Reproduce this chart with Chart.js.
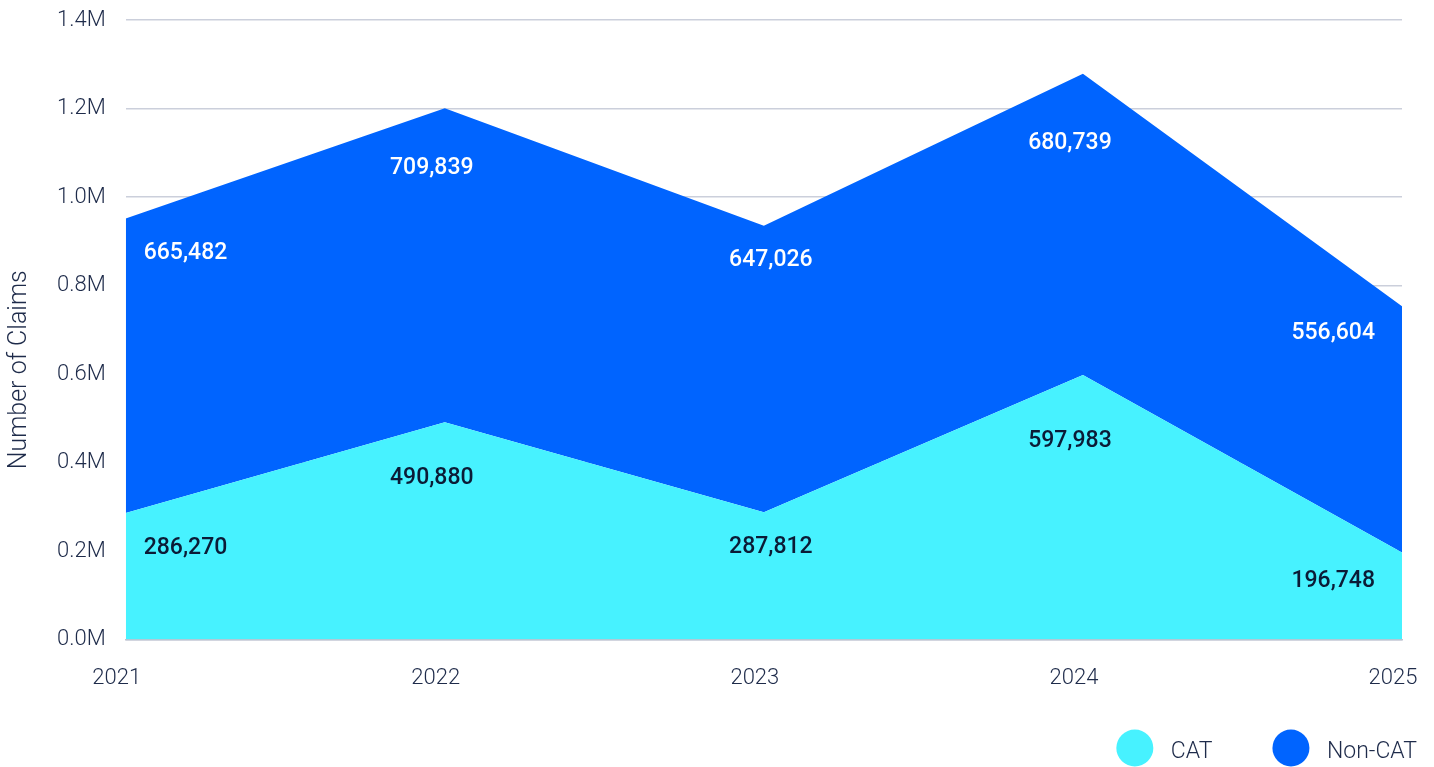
<!DOCTYPE html>
<html>
<head>
<meta charset="utf-8">
<title>Number of Claims</title>
<script src="https://cdn.jsdelivr.net/npm/chart.js@4.4.1/dist/chart.umd.min.js"></script>
<style>
  html, body { margin: 0; padding: 0; background: #ffffff; overflow: hidden; }
  #wrap { position: relative; width: 1434px; height: 775px; }
</style>
</head>
<body>
<div id="wrap"><canvas id="chart"></canvas></div>
<script>
// Claim counts per year, split by catastrophe (CAT) and non-catastrophe claims
const years = ['2021', '2022', '2023', '2024', '2025'];
const catClaims = [286270, 490880, 287812, 597983, 196748];
const nonCatClaims = [665482, 709839, 647026, 680739, 556604];
const yTicks = [0, 200000, 400000, 600000, 800000, 1000000, 1200000, 1400000];
const yTitle = 'Number of Claims';

const CAT_COLOR = '#47F2FF';
const NONCAT_COLOR = '#0064FF';
const TEXT_COLOR = '#1E2B4A';
const FONT = 'Roboto, "Noto Sans", sans-serif';

// Value labels inside each band, kept clear of the band's upper edge
const bandLabels = {
  id: 'bandLabels',
  afterDatasetsDraw(chart) {
    const ctx = chart.ctx;
    const area = chart.chartArea;
    ctx.save();
    ctx.font = '500 23px ' + FONT;
    ctx.textAlign = 'center';
    ctx.textBaseline = 'middle';
    chart.data.datasets.forEach((ds, di) => {
      const pts = chart.getDatasetMeta(di).data;
      const edgeY = (x) => {
        x = Math.min(Math.max(x, pts[0].x), pts[pts.length - 1].x);
        for (let i = 0; i < pts.length - 1; i++) {
          const a = pts[i], b = pts[i + 1];
          if (x >= a.x && x <= b.x) {
            return a.y + (b.y - a.y) * (x - a.x) / (b.x - a.x);
          }
        }
        return pts[pts.length - 1].y;
      };
      pts.forEach((p, i) => {
        const text = ds.data[i].toLocaleString('en-US');
        const half = ctx.measureText(text).width / 2;
        let cx = p.x;
        if (i > 0 && i < pts.length - 1) {
          const peak = p.y < pts[i - 1].y && p.y < pts[i + 1].y;
          const valley = p.y > pts[i - 1].y && p.y > pts[i + 1].y;
          if (peak) cx -= 13;
          if (valley) cx += 7;
        }
        cx = Math.max(cx, area.left + 18 + half);
        cx = Math.min(cx, area.right - 27 - half);
        const reach = half + 18;
        let lowest = -Infinity;
        for (let x = cx - reach; x <= cx + reach; x += 2) {
          lowest = Math.max(lowest, edgeY(x));
        }
        ctx.fillStyle = ds.labelColor;
        ctx.fillText(text, cx, lowest + 35);
      });
    });
    ctx.restore();
  }
};

// Vertical axis caption beside the tick labels
const axisCaption = {
  id: 'axisCaption',
  afterDraw(chart) {
    const ctx = chart.ctx;
    const area = chart.chartArea;
    ctx.save();
    ctx.font = '300 25px ' + FONT;
    ctx.fillStyle = TEXT_COLOR;
    ctx.textAlign = 'center';
    ctx.textBaseline = 'middle';
    ctx.translate(20, (area.top + area.bottom) / 2 + 40);
    ctx.rotate(-Math.PI / 2);
    ctx.fillText(yTitle, 0, 0);
    ctx.restore();
  }
};

// Round-marker legend at the bottom right
const roundLegend = {
  id: 'roundLegend',
  afterDraw(chart) {
    const ctx = chart.ctx;
    ctx.save();
    ctx.font = '300 23px ' + FONT;
    ctx.textBaseline = 'middle';
    ctx.textAlign = 'left';
    const y = 750;
    let right = chart.width - 17;
    const items = chart.data.datasets.map(ds => ({ label: ds.label, color: ds.backgroundColor }));
    for (let i = items.length - 1; i >= 0; i--) {
      const it = items[i];
      const w = ctx.measureText(it.label).width;
      const tx = right - w;
      const cx = tx - 36;
      ctx.fillStyle = it.color;
      ctx.beginPath();
      ctx.arc(cx, y - 2, 18.5, 0, Math.PI * 2);
      ctx.fill();
      ctx.fillStyle = TEXT_COLOR;
      ctx.fillText(it.label, tx, y + 2);
      right = cx - 18.5 - 60;
    }
    ctx.restore();
  }
};

new Chart(document.getElementById('chart'), {
  type: 'line',
  data: {
    labels: years,
    datasets: [
      {
        label: 'CAT',
        data: catClaims,
        backgroundColor: CAT_COLOR,
        borderWidth: 0,
        pointRadius: 0,
        fill: 'origin',
        tension: 0,
        labelColor: '#0B1B36'
      },
      {
        label: 'Non-CAT',
        data: nonCatClaims,
        backgroundColor: NONCAT_COLOR,
        borderWidth: 0,
        pointRadius: 0,
        fill: '-1',
        tension: 0,
        labelColor: '#FFFFFF'
      }
    ]
  },
  options: {
    responsive: true,
    maintainAspectRatio: false,
    animation: false,
    layout: { padding: { left: 37, right: 0, top: 0, bottom: 65 } },
    plugins: {
      legend: { display: false },
      tooltip: { enabled: false }
    },
    scales: {
      x: {
        grid: { display: false },
        border: { display: true, color: '#BFC3D1', width: 1.5 },
        ticks: {
          color: TEXT_COLOR,
          font: { family: FONT, size: 22, weight: 300 },
          padding: 18,
          labelOffset: -9,
          maxRotation: 0
        },
        afterFit(scale) {
          scale.paddingRight = 32;
        }
      },
      y: {
        stacked: true,
        min: 0,
        max: 1400000,
        afterBuildTicks(scale) {
          scale.ticks = yTicks.map(v => ({ value: v }));
        },
        afterFit(scale) {
          scale.paddingTop = 20;
          scale.paddingBottom = 0;
        },
        grid: { color: '#CBCFDB', lineWidth: 1.5, drawTicks: false },
        border: { display: false },
        ticks: {
          color: TEXT_COLOR,
          font: { family: FONT, size: 22, weight: 300 },
          padding: 20,
          callback: (v) => (v / 1000000).toFixed(1) + 'M'
        }
      }
    }
  },
  plugins: [bandLabels, axisCaption, roundLegend]
});
</script>
</body>
</html>
